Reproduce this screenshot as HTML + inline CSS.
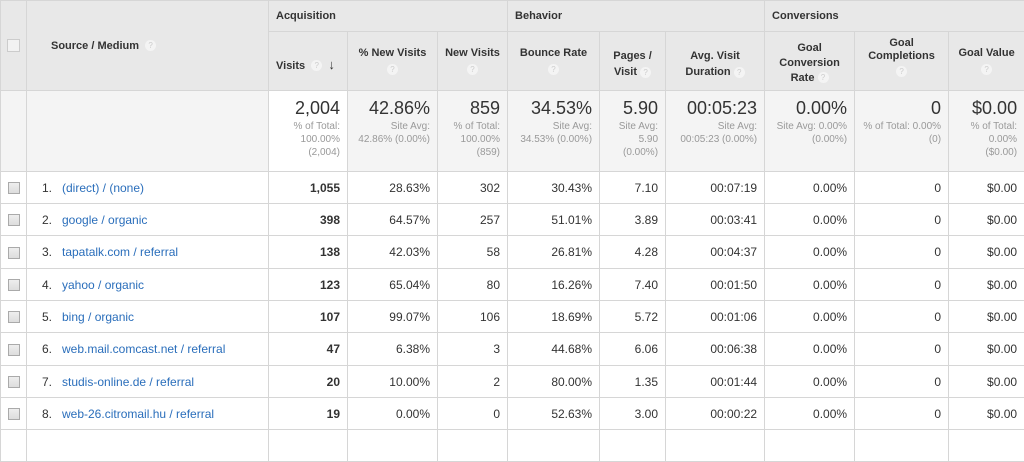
<!DOCTYPE html>
<html><head><meta charset="utf-8"><style>
body{margin:0;width:1024px;height:435px;overflow:hidden;background:#fff;font-family:"Liberation Sans",Arial,sans-serif;}
table{border-collapse:collapse;table-layout:fixed;width:1024px;}
td,th{border:1px solid #d6d6d6;padding:0 7px;overflow:hidden;white-space:nowrap;}
th{background:#e8e8e8;font-size:11px;color:#333;font-weight:bold;}
tr.grp{height:31px}
tr.sub{height:59px}
tr.sum{height:81px}
tr.r{height:32px}
tr.r.t{height:33px}
.grp th{text-align:left;vertical-align:middle;}
.sub th{text-align:center;line-height:16px;padding-top:0;padding-bottom:0}
.q{display:inline-block;width:11px;height:11px;border-radius:50%;background:#f4f4f4;color:#ccc;font-size:8px;line-height:11px;text-align:center;font-weight:normal;vertical-align:middle}
.sum td{background:#f4f4f4;text-align:right;vertical-align:top;padding-top:6px;padding-bottom:0;color:#999;font-size:10px;line-height:13px;white-space:normal}
.sum td.w{background:#fff}
.sum b{display:block;font-weight:normal;font-size:18px;color:#333;line-height:22px;margin-bottom:1px}
.r td{font-size:12px;color:#333;text-align:right;padding-top:0;padding-bottom:0}
.r td.s{text-align:left;color:#2a6ebb}
.r td.s span{color:#333;display:inline-block;width:20px;margin-left:8px}
.cb{display:inline-block;width:10px;height:10px;border:1px solid #aaa;background:linear-gradient(#eee,#ddd);vertical-align:middle}
.r td.c{text-align:center;padding:0}
</style></head><body>
<table>
<colgroup><col style="width:26px"><col style="width:242px"><col style="width:79px"><col style="width:90px"><col style="width:70px"><col style="width:92px"><col style="width:66px"><col style="width:99px"><col style="width:90px"><col style="width:94px"><col style="width:76px"></colgroup>
<tr class="grp"><th rowspan="2" style="padding:0;text-align:center;vertical-align:middle"><span class="cb" style="background:#f2f2f2;border-color:#ccc;width:11px;height:11px"></span></th><th rowspan="2" style="padding-left:24px">Source / Medium &nbsp;<span class="q">?</span></th><th colspan="3">Acquisition</th><th colspan="3">Behavior</th><th colspan="3">Conversions</th></tr>
<tr class="sub"><th style="text-align:left;padding-top:8px">Visits &nbsp;<span class="q">?</span> &nbsp;<span style="font-size:13px">↓</span></th><th>% New Visits<br><span class="q">?</span></th><th>New Visits<br><span class="q">?</span></th><th>Bounce Rate<br><span class="q">?</span></th><th style="padding-top:6px">Pages /<br>Visit <span class="q">?</span></th><th style="padding-top:6px">Avg. Visit<br>Duration <span class="q">?</span></th><th style="line-height:15px;padding-top:4px">Goal<br>Conversion<br>Rate <span class="q">?</span></th><th style="line-height:13px;padding-bottom:8px">Goal<br>Completions<br><span class="q" style="margin-top:3px">?</span></th><th>Goal Value<br><span class="q">?</span></th></tr>
<tr class="sum"><td></td><td></td><td class="w"><b>2,004</b>% of Total:<br>100.00%<br>(2,004)</td><td><b>42.86%</b>Site Avg:<br>42.86% (0.00%)</td><td><b>859</b>% of Total:<br>100.00%<br>(859)</td><td><b>34.53%</b>Site Avg:<br>34.53% (0.00%)</td><td><b>5.90</b>Site Avg:<br>5.90<br>(0.00%)</td><td><b>00:05:23</b>Site Avg:<br>00:05:23 (0.00%)</td><td><b>0.00%</b>Site Avg: 0.00%<br>(0.00%)</td><td><b>0</b>% of Total: 0.00%<br>(0)</td><td><b>$0.00</b>% of Total:<br>0.00%<br>($0.00)</td></tr>
<tr class="r"><td class="c"><span class="cb"></span></td><td class="s"><span>1.</span>(direct) / (none)</td><td><b>1,055</b></td><td>28.63%</td><td>302</td><td>30.43%</td><td>7.10</td><td>00:07:19</td><td>0.00%</td><td>0</td><td>$0.00</td></tr>
<tr class="r"><td class="c"><span class="cb"></span></td><td class="s"><span>2.</span>google / organic</td><td><b>398</b></td><td>64.57%</td><td>257</td><td>51.01%</td><td>3.89</td><td>00:03:41</td><td>0.00%</td><td>0</td><td>$0.00</td></tr>
<tr class="r t"><td class="c"><span class="cb"></span></td><td class="s"><span>3.</span>tapatalk.com / referral</td><td><b>138</b></td><td>42.03%</td><td>58</td><td>26.81%</td><td>4.28</td><td>00:04:37</td><td>0.00%</td><td>0</td><td>$0.00</td></tr>
<tr class="r"><td class="c"><span class="cb"></span></td><td class="s"><span>4.</span>yahoo / organic</td><td><b>123</b></td><td>65.04%</td><td>80</td><td>16.26%</td><td>7.40</td><td>00:01:50</td><td>0.00%</td><td>0</td><td>$0.00</td></tr>
<tr class="r"><td class="c"><span class="cb"></span></td><td class="s"><span>5.</span>bing / organic</td><td><b>107</b></td><td>99.07%</td><td>106</td><td>18.69%</td><td>5.72</td><td>00:01:06</td><td>0.00%</td><td>0</td><td>$0.00</td></tr>
<tr class="r t"><td class="c"><span class="cb"></span></td><td class="s"><span>6.</span>web.mail.comcast.net / referral</td><td><b>47</b></td><td>6.38%</td><td>3</td><td>44.68%</td><td>6.06</td><td>00:06:38</td><td>0.00%</td><td>0</td><td>$0.00</td></tr>
<tr class="r"><td class="c"><span class="cb"></span></td><td class="s"><span>7.</span>studis-online.de / referral</td><td><b>20</b></td><td>10.00%</td><td>2</td><td>80.00%</td><td>1.35</td><td>00:01:44</td><td>0.00%</td><td>0</td><td>$0.00</td></tr>
<tr class="r"><td class="c"><span class="cb"></span></td><td class="s"><span>8.</span>web-26.citromail.hu / referral</td><td><b>19</b></td><td>0.00%</td><td>0</td><td>52.63%</td><td>3.00</td><td>00:00:22</td><td>0.00%</td><td>0</td><td>$0.00</td></tr>
<tr class="r"><td class="c"></td><td></td><td></td><td></td><td></td><td></td><td></td><td></td><td></td><td></td><td></td></tr>
</table>
</body></html>
